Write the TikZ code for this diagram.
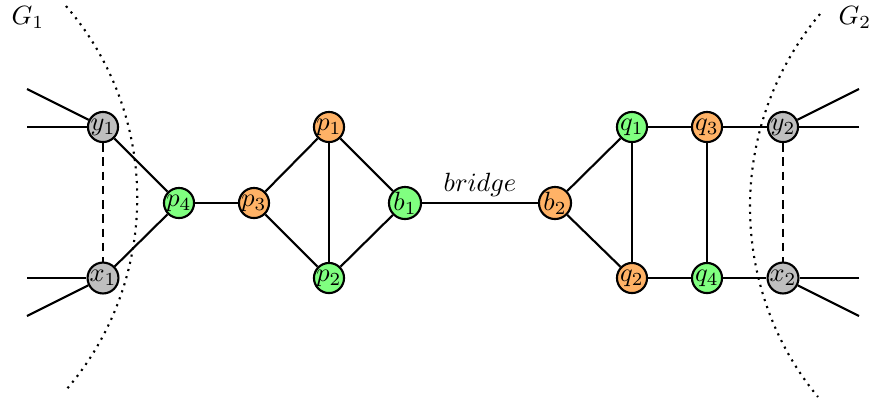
\documentclass[tikz,border=0pt]{standalone}
\usetikzlibrary{calc}
\begin{document}
\begin{tikzpicture}[x=0.3788pt,y=-0.3788pt,
  vtx/.style={circle,draw,line width=0.8pt,minimum size=11.4pt,inner sep=0pt},
  org/.style={vtx,fill=orange!60},
  grn/.style={vtx,fill=green!50},
  gry/.style={vtx,fill=gray!50},
  edge/.style={line width=0.8pt},
  dedge/.style={line width=0.8pt,dash pattern=on 3.2pt off 2.2pt},
  dotarc/.style={line width=0.8pt,dash pattern=on 0.8pt off 2pt}]
\useasboundingbox (0,0) rectangle (875,407);
% dotted boundaries
\draw[dotarc] (66,6) .. controls (161,116) and (161,280) .. (66,390);
\draw[dotarc] (820,14) .. controls (727,125) and (727,287) .. (818,397);
\node (G1) at (28,17) {$G_1$};
\node (G2) at (855,17) {$G_2$};
% nodes
\node[gry] (y1) at (103,127) {$y_1$};
\node[gry] (x1) at (103,278) {$x_1$};
\node[grn] (p4) at (179,203) {$p_4$};
\node[org] (p3) at (254,203) {$p_3$};
\node[org] (p1) at (329,127) {$p_1$};
\node[grn] (p2) at (329,278) {$p_2$};
\node[grn] (b1) at (405,203) {$b_1$};
\node[org] (b2) at (555,203) {$b_2$};
\node[grn] (q1) at (632,127) {$q_1$};
\node[org] (q2) at (632,278) {$q_2$};
\node[org] (q3) at (707,127) {$q_3$};
\node[grn] (q4) at (707,278) {$q_4$};
\node[gry] (y2) at (783,127) {$y_2$};
\node[gry] (x2) at (783,278) {$x_2$};
% free ends
\coordinate (ya) at (27,89);
\coordinate (yb) at (27,127);
\coordinate (xa) at (27,278);
\coordinate (xb) at (27,316);
\coordinate (ra) at (859,89);
\coordinate (rb) at (859,127);
\coordinate (rc) at (859,278);
\coordinate (rd) at (859,316);
% edges
\draw[edge] (ya) -- (y1);
\draw[edge] (yb) -- (y1);
\draw[edge] (xa) -- (x1);
\draw[edge] (xb) -- (x1);
\draw[edge] (ra) -- (y2);
\draw[edge] (rb) -- (y2);
\draw[edge] (rc) -- (x2);
\draw[edge] (rd) -- (x2);
\draw[dedge] (y1) -- (x1);
\draw[dedge] (y2) -- (x2);
\draw[edge] (y1) -- (p4);
\draw[edge] (x1) -- (p4);
\draw[edge] (p4) -- (p3);
\draw[edge] (p3) -- (p1);
\draw[edge] (p3) -- (p2);
\draw[edge] (p1) -- (p2);
\draw[edge] (p1) -- (b1);
\draw[edge] (p2) -- (b1);
\draw[edge] (b1) -- node[above,inner sep=2pt] (br) {$bridge$} (b2);
\draw[edge] (b2) -- (q1);
\draw[edge] (b2) -- (q2);
\draw[edge] (q1) -- (q2);
\draw[edge] (q1) -- (q3);
\draw[edge] (q2) -- (q4);
\draw[edge] (q3) -- (q4);
\draw[edge] (q3) -- (y2);
\draw[edge] (q4) -- (x2);
\end{tikzpicture}
\end{document}
